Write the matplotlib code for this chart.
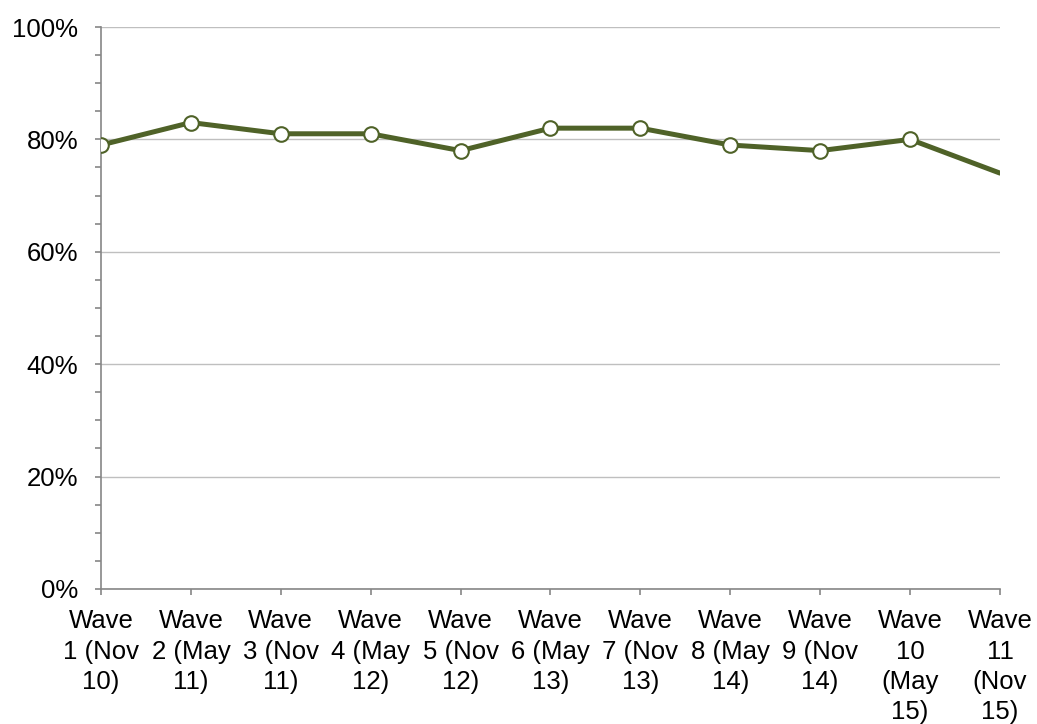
import numpy as np
import matplotlib.pyplot as plt
from matplotlib.ticker import MultipleLocator, FuncFormatter

plt.rcParams['font.family'] = ['Liberation Sans', 'DejaVu Sans']

labels = ['Wave\n1 (Nov\n10)', 'Wave\n2 (May\n11)', 'Wave\n3 (Nov\n11)', 'Wave\n4 (May\n12)',
          'Wave\n5 (Nov\n12)', 'Wave\n6 (May\n13)', 'Wave\n7 (Nov\n13)', 'Wave\n8 (May\n14)',
          'Wave\n9 (Nov\n14)', 'Wave\n10\n(May\n15)', 'Wave\n11\n(Nov\n15)']
values = [79, 83, 81, 81, 78, 82, 82, 79, 78, 80, 74]
# last wave has no marker
marked = 10

green = '#4F6228'
grey = '#BFBFBF'
axis_grey = '#868686'

fig = plt.figure(figsize=(10.37, 7.24), dpi=100)
ax = fig.add_axes([0.0974, 0.1865, 0.8669, 0.7762])

x = np.arange(len(values))
ax.plot(x, values, color=green, lw=3.6, zorder=3, solid_capstyle='round')
ax.plot(x[:marked], values[:marked], ls='none', marker='o', ms=10.5,
        mfc='white', mec=green, mew=1.5, zorder=4)

ax.set_xlim(0, len(values) - 1)
ax.set_ylim(0, 100)
ax.yaxis.set_major_locator(MultipleLocator(20))
ax.yaxis.set_minor_locator(MultipleLocator(5))
ax.yaxis.set_major_formatter(FuncFormatter(lambda v, p: f'{v:.0f}%'))
ax.set_xticks(x)
ax.set_xticklabels(labels, linespacing=1.34)

ax.grid(axis='y', color=grey, lw=1)
ax.set_axisbelow(True)
for s in ['top', 'right']:
    ax.spines[s].set_visible(False)
for s in ['left', 'bottom']:
    ax.spines[s].set_color(axis_grey)
    ax.spines[s].set_linewidth(1.2)

ax.tick_params(axis='both', which='both', length=4.5, color=axis_grey, width=1.2,
               labelsize=18.5, labelcolor='black')
ax.tick_params(axis='x', pad=10)
ax.tick_params(axis='y', pad=12)

fig.savefig('out.png', dpi=100)
